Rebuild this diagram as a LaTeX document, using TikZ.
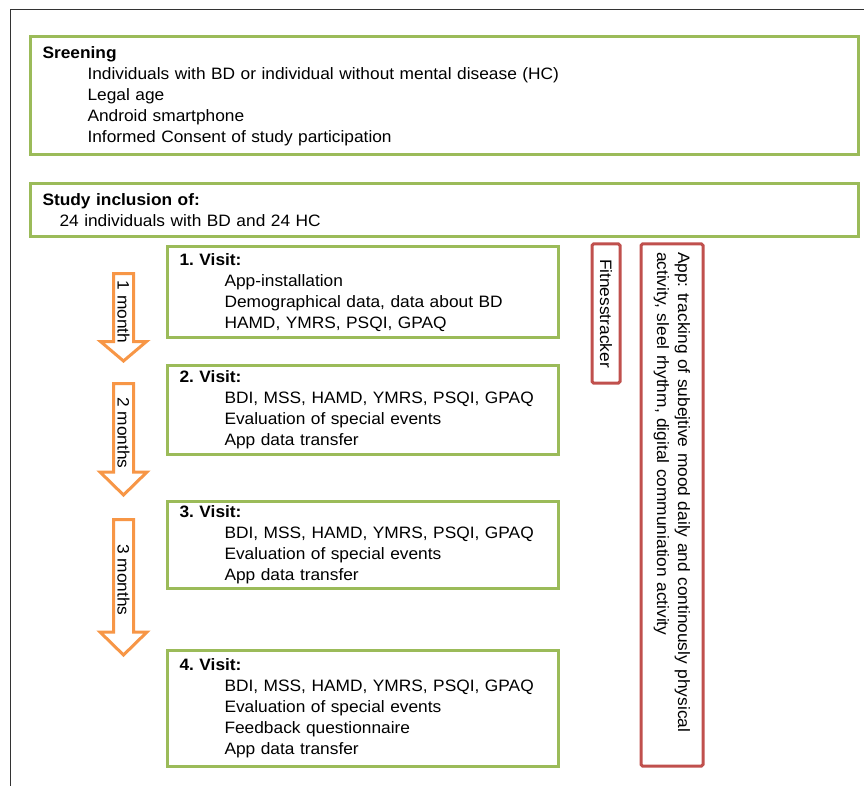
\documentclass[tikz,border=0pt]{standalone}
\usepackage{fontspec}
\setmainfont{Liberation Sans}[FakeStretch=1.05]
\usetikzlibrary{positioning}
\definecolor{boxgreen}{HTML}{9BBB59}
\definecolor{boxred}{HTML}{C0504D}
\definecolor{arroworange}{HTML}{F79646}

\begin{document}
\begin{tikzpicture}[x=1pt, y=-1pt,
  font=\fontsize{16.5}{21}\selectfont\frenchspacing,
  stage/.style={rectangle, draw=boxgreen, line width=3pt, anchor=north west,
                inner xsep=12pt, inner ysep=0pt, align=left},
  tracker/.style={rectangle, rounded corners=1.5pt, draw=boxred, line width=3pt,
                  rotate=-90, inner xsep=8pt, inner ysep=0pt},
  period/.style={draw=arroworange, line width=3pt, fill=white},
  periodlabel/.style={rotate=-90, inner sep=0pt}
]
\useasboundingbox (0,0) rectangle (864,786);
\draw[black!80, line width=1pt] (864,9.5) -- (10.5,9.5) -- (10.5,786);

% inclusion
\node[stage, text width=804pt, minimum height=118.5pt] (screen) at (29,35) {\textbf{Sreening}\\
  \hspace*{45pt}Individuals with BD or individual without mental disease (HC)\\
  \hspace*{45pt}Legal age\\
  \hspace*{45pt}Android smartphone\\
  \hspace*{45pt}Informed Consent of study participation};
\node[stage, text width=804pt, minimum height=53pt] (incl) at (29,182.5) {\textbf{Study inclusion of:}\\
  \hspace*{17pt}24 individuals with BD and 24 HC};

% visits
\node[stage, text width=367pt, minimum height=90.5pt] (v1) at (166,245.5) {\textbf{1. Visit:}\\
  \hspace*{45pt}App-installation\\
  \hspace*{45pt}Demographical data, data about BD\\
  \hspace*{45pt}HAMD, YMRS, PSQI, GPAQ};
\node[stage, text width=367pt, minimum height=89pt] (v2) at (166,364) {\textbf{2. Visit:}\\
  \hspace*{45pt}BDI, MSS, HAMD, YMRS, PSQI, GPAQ\\
  \hspace*{45pt}Evaluation of special events\\
  \hspace*{45pt}App data transfer};
\node[stage, text width=367pt, minimum height=86.5pt] (v3) at (166,500) {\textbf{3. Visit:}\\
  \hspace*{45pt}BDI, MSS, HAMD, YMRS, PSQI, GPAQ\\
  \hspace*{45pt}Evaluation of special events\\
  \hspace*{45pt}App data transfer};
\node[stage, text width=367pt, minimum height=116pt] (v4) at (166,648.5) {\textbf{4. Visit:}\\
  \hspace*{45pt}BDI, MSS, HAMD, YMRS, PSQI, GPAQ\\
  \hspace*{45pt}Evaluation of special events\\
  \hspace*{45pt}Feedback questionnaire\\
  \hspace*{45pt}App data transfer};

% continuous tracking
\node[tracker, minimum width=139pt, minimum height=28pt, align=center] (fit) at (606,313.5) {Fitnesstracker};
\node[tracker, minimum width=522pt, minimum height=62pt, text width=506pt, align=left] (app) at (672,505)
  {App: tracking of subejtive mood daily and continously physical\\
   activity, sleel rhythm, digital communiation activity};

% time between visits
\draw[period] (113.5,273.5) -- (133.5,273.5) -- (133.5,341.5) -- (146.5,341.5) -- (123.5,361)
  -- (100.5,341.5) -- (113.5,341.5) -- cycle;
\node[periodlabel] (m1) at (123.5,312) {1 month};
\draw[period] (113.5,383.5) -- (133.5,383.5) -- (133.5,472) -- (147,472) -- (123.5,495)
  -- (100,472) -- (113.5,472) -- cycle;
\node[periodlabel] (m2) at (123.5,433) {2 months};
\draw[period] (113.5,519.5) -- (133.5,519.5) -- (133.5,632) -- (147,632) -- (123.5,655)
  -- (100,632) -- (113.5,632) -- cycle;
\node[periodlabel] (m3) at (123.5,580) {3 months};
\end{tikzpicture}
\end{document}
